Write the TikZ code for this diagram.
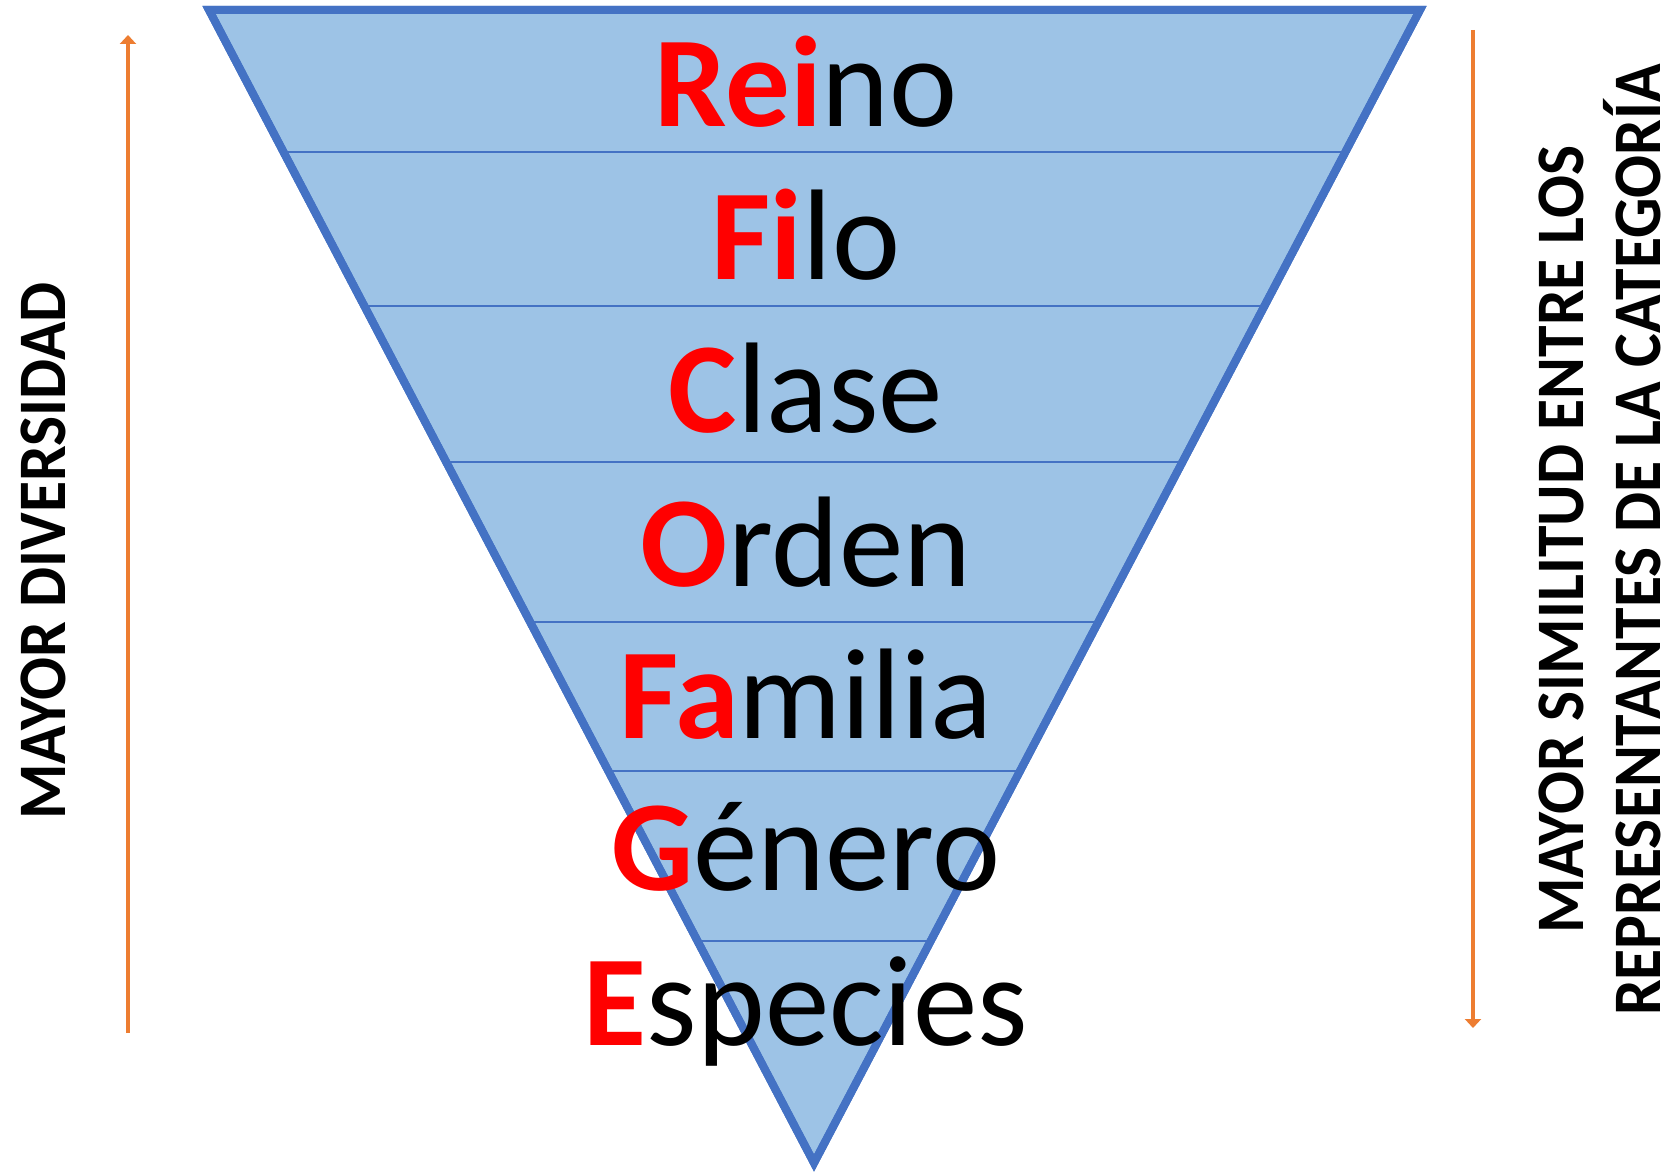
\documentclass[tikz,border=0pt]{standalone}
\usepackage{fontspec}
\setmainfont{Carlito}
\usetikzlibrary{arrows.meta,calc}
\definecolor{triblue}{HTML}{4472C4}
\definecolor{trifill}{HTML}{9DC3E6}
\definecolor{arrorange}{HTML}{ED7D31}
\definecolor{lettred}{HTML}{FF0000}
\tikzset{
  rank/.style={anchor=base,inner sep=0pt,font=\fontsize{129}{131}\selectfont},
  sidelabel/.style={rotate=90,inner sep=0pt,align=center,font=\bfseries\fontsize{68}{77}\selectfont},
  divider/.style={draw=triblue,line width=1.5pt},
  outline/.style={draw=triblue,line width=8pt,line join=miter,fill=trifill},
  sidearrow/.style={draw=arrorange,line width=4pt,-{Triangle[width=16pt,length=9pt]}}
}
\newcommand{\rl}[1]{\textcolor{lettred}{\bfseries #1}}
\newcommand{\sq}[1]{\scalebox{0.935}[1]{#1}}
\begin{document}
\begin{tikzpicture}[x=1pt,y=-1pt]
\useasboundingbox (0,0) rectangle (1670,1172);
\coordinate (tl) at (209,10);
\coordinate (tr) at (1420,10);
\coordinate (ap) at (814,1163);
\path[outline] (tl) -- (tr) -- (ap) -- cycle;
\foreach \f in {0.1232,0.2567,0.3920,0.5308,0.6600,0.8075}{
  \draw[divider] ($(tl)!\f!(ap)$) -- ($(tr)!\f!(ap)$);
}
\draw[draw=triblue,line width=8pt,line join=miter] (tl) -- (tr) -- (ap) -- cycle;
\node[rank] (reino) at (806,126) {\rl{Rei}no};
\node[rank] (filo) at (806,279) {\rl{Fi}lo};
\node[rank] (clase) at (806,432) {\rl{C}lase};
\node[rank] (orden) at (806,586) {\rl{O}rden};
\node[rank] (familia) at (806,738) {\rl{Fa}milia};
\node[rank] (genero) at (806,890) {\rl{G}énero};
\node[rank] (especies) at (806,1045) {\rl{E}species};
\coordinate (la0) at (128,1033);
\coordinate (la1) at (128,35);
\draw[sidearrow] (la0) -- (la1);
\coordinate (ra0) at (1473,30);
\coordinate (ra1) at (1473,1028);
\draw[sidearrow] (ra0) -- (ra1);
\node[sidelabel] (diver) at (43,551) {\sq{MAYOR DIVERSIDAD}};
\node[sidelabel] (simil) at (1600,540) {\sq{MAYOR SIMILITUD ENTRE LOS}\\\sq{REPRESENTANTES DE LA CATEGORÍA}};
\end{tikzpicture}
\end{document}
